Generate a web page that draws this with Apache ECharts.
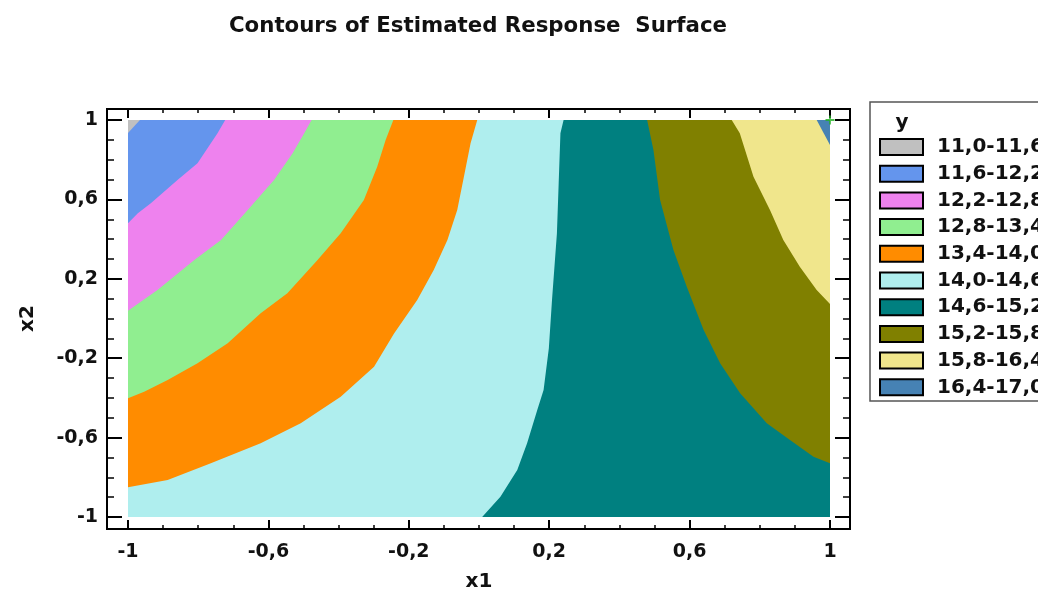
<!DOCTYPE html>
<html>
<head>
<meta charset="utf-8">
<title>Contours of Estimated Response Surface</title>
<script src="https://cdn.jsdelivr.net/npm/echarts@6/dist/echarts.min.js"></script>
<style>
    html, body { margin: 0; padding: 0; background: #fff; }
    #chart { width: 1038px; height: 592px; }
</style>
</head>
<body>
<div id="chart"></div>
<script>
// contour lines, [x1, x2]
const c11_6 = [[-0.966, 1], [-1, 0.935]]
const c12_2 = [[-0.723, 1], [-0.745, 0.933], [-0.802, 0.782], [-0.859, 0.698], [-0.935, 0.58], [-0.972, 0.53], [-1, 0.48]]
const c12_8 = [[-0.477, 1], [-0.498, 0.933], [-0.531, 0.832], [-0.584, 0.698], [-0.659, 0.547], [-0.735, 0.395], [-0.811, 0.295], [-0.916, 0.144], [-1, 0.039]]
const c13_4 = [[-0.244, 1], [-0.266, 0.899], [-0.29, 0.765], [-0.328, 0.597], [-0.394, 0.429], [-0.46, 0.295], [-0.546, 0.127], [-0.622, 0.026], [-0.716, -0.125], [-0.802, -0.226], [-0.887, -0.31], [-0.954, -0.369], [-1, -0.402]]
const c14_0 = [[-0.005, 1], [-0.024, 0.883], [-0.043, 0.714], [-0.062, 0.547], [-0.09, 0.395], [-0.129, 0.244], [-0.176, 0.093], [-0.242, -0.075], [-0.299, -0.243], [-0.394, -0.394], [-0.508, -0.528], [-0.622, -0.629], [-0.764, -0.729], [-0.887, -0.814], [-1, -0.85]]
const c14_6 = [[0.241, 1], [0.232, 0.933], [0.227, 0.681], [0.222, 0.429], [0.208, 0.093], [0.199, -0.15], [0.184, -0.36], [0.166, -0.461], [0.137, -0.629], [0.109, -0.763], [0.061, -0.898], [0.009, -1]]
const c15_2 = [[0.479, 1], [0.497, 0.849], [0.516, 0.597], [0.554, 0.345], [0.592, 0.16], [0.64, -0.058], [0.687, -0.226], [0.744, -0.377], [0.82, -0.528], [0.886, -0.612], [0.953, -0.696], [1, -0.729]]
const c15_8 = [[0.72, 1], [0.743, 0.933], [0.782, 0.714], [0.829, 0.547], [0.867, 0.395], [0.914, 0.261], [0.962, 0.144], [1, 0.073]]
const c16_4 = [[0.962, 1], [1, 0.874]]

// plot corners
const plotRect = [[-1, -1], [1, -1], [1, 1], [-1, 1]]
const optimum = [[1, 1]]

const bandNames = ['11,0-11,6', '11,6-12,2', '12,2-12,8', '12,8-13,4', '13,4-14,0', '14,0-14,6', '14,6-15,2', '15,2-15,8', '15,8-16,4', '16,4-17,0']

const tickValues = [-1, -0.6, -0.2, 0.2, 0.6, 1]
const tickLabels = ['-1', '-0,6', '-0,2', '0,2', '0,6', '1']

// band polygons, painted in this order (later ones on top)
const bands = [
    { name: '14,6-15,2', color: '#008080', pts: plotRect },
    { name: '14,0-14,6', color: '#afeeee', pts: c14_6.concat([[-1, -1], [-1, 1]]) },
    { name: '13,4-14,0', color: '#ff8c00', pts: c14_0.concat([[-1, 1]]) },
    { name: '12,8-13,4', color: '#90ee90', pts: c13_4.concat([[-1, 1]]) },
    { name: '12,2-12,8', color: '#ee82ee', pts: c12_8.concat([[-1, 1]]) },
    { name: '11,6-12,2', color: '#6495ed', pts: c12_2.concat([[-1, 1]]) },
    { name: '11,0-11,6', color: '#c0c0c0', pts: c11_6.concat([[-1, 1]]) },
    { name: '15,2-15,8', color: '#808000', pts: c15_2.concat([[1, 1]]) },
    { name: '15,8-16,4', color: '#f0e68c', pts: c15_8.concat([[1, 1]]) },
    { name: '16,4-17,0', color: '#4682b4', pts: c16_4.concat([[1, 1]]) },
]

const font = 'DejaVu Sans'
const tickFmt = v => {
    let i = tickValues.findIndex(t => Math.abs(t - v) < 1e-6)
    return i < 0 ? '' : tickLabels[i]
}

// frame box in pixels (axes are offset out to it)
const frame = { x: 107, y: 109, w: 743, h: 420 }
const grid = { left: 128, top: 120, width: 702, height: 397, outerBoundsMode: 'none' }

function makeX(position, offset, withLabel) {
    return {
        type: 'value',
        position: position,
        offset: offset,
        min: -1,
        max: 1,
        interval: 0.4,
        axisLine: { show: false, onZero: false },
        axisTick: { show: true, inside: true, length: 9, lineStyle: { color: '#000', width: 2 } },
        minorTick: { show: true, splitNumber: 4, length: 4, lineStyle: { color: '#000', width: 1.5 } },
        splitLine: { show: false },
        axisLabel: withLabel ? {
            show: true,
            margin: 14,
            formatter: tickFmt,
            fontFamily: font,
            fontWeight: 'bold',
            fontSize: 19,
            color: '#111',
        } : { show: false },
        name: withLabel ? 'x1' : '',
        nameLocation: 'middle',
        nameGap: 43,
        nameTextStyle: { fontFamily: font, fontWeight: 'bold', fontSize: 20, color: '#111' },
    }
}

function makeY(position, offset, withLabel) {
    return {
        type: 'value',
        position: position,
        offset: offset,
        min: -1,
        max: 1,
        interval: 0.4,
        axisLine: { show: false, onZero: false },
        axisTick: { show: true, inside: true, length: 15, lineStyle: { color: '#000', width: 2 } },
        minorTick: { show: true, splitNumber: 4, length: 7, lineStyle: { color: '#000', width: 1.5 } },
        splitLine: { show: false },
        axisLabel: withLabel ? {
            show: true,
            margin: 9,
            formatter: tickFmt,
            fontFamily: font,
            fontWeight: 'bold',
            fontSize: 19,
            color: '#111',
        } : { show: false },
        name: withLabel ? 'x2' : '',
        nameLocation: 'middle',
        nameGap: 69,
        nameTextStyle: { fontFamily: font, fontWeight: 'bold', fontSize: 20, color: '#111' },
    }
}

var myChart = echarts.init(document.getElementById('chart'))

let series = bands.map(b => ({
    name: b.name,
    type: 'custom',
    coordinateSystem: 'cartesian2d',
    xAxisIndex: 0,
    yAxisIndex: 0,
    silent: true,
    itemStyle: { color: b.color },
    data: [0],
    renderItem: (params, api) => ({
        type: 'polygon',
        shape: { points: b.pts.map(p => api.coord(p)) },
        style: { fill: b.color },
    }),
}))

series.push({
    type: 'scatter',
    xAxisIndex: 0,
    yAxisIndex: 0,
    symbol: 'path://M4,0H6V4H10V6H6V10H4V6H0V4H4Z',
    symbolSize: 9,
    itemStyle: { color: '#22b022' },
    silent: true,
    data: optimum,
})

var option = {
    animation: false,
    backgroundColor: '#fff',
    title: {
        text: 'Contours of Estimated Response  Surface',
        left: 473,
        textAlign: 'center',
        top: 11,
        textStyle: { fontFamily: font, fontWeight: 'bold', fontSize: 21.3, color: '#111' },
    },
    grid: grid,
    xAxis: [makeX('bottom', 12, true), makeX('top', 11, false)],
    yAxis: [makeY('left', 21, true), makeY('right', 20, false)],
    legend: {
        orient: 'vertical',
        left: 879,
        top: 137,
        padding: 0,
        icon: 'rect',
        itemWidth: 43,
        itemHeight: 16,
        itemGap: 6.7,
        selectedMode: false,
        data: bandNames,
        itemStyle: { borderColor: '#000', borderWidth: 2 },
        textStyle: {
            fontFamily: font,
            fontWeight: 'bold',
            fontSize: 20,
            color: '#111',
            padding: [0, 0, 0, 9],
        },
    },
    graphic: [
        {
            type: 'rect',
            shape: { x: frame.x, y: frame.y, width: frame.w, height: frame.h },
            style: { fill: 'none', stroke: '#000', lineWidth: 2 },
            z: 100,
        },
        {
            type: 'rect',
            shape: { x: 870, y: 102, width: 220, height: 299 },
            style: { fill: 'none', stroke: '#555', lineWidth: 1.5 },
        },
        {
            type: 'text',
            x: 902,
            y: 123,
            style: {
                text: 'y',
                align: 'center',
                verticalAlign: 'middle',
                font: 'bold 20px "DejaVu Sans"',
                fill: '#111',
            },
        },
    ],
    series: series,
}

myChart.setOption(option)
</script>
</body>
</html>
